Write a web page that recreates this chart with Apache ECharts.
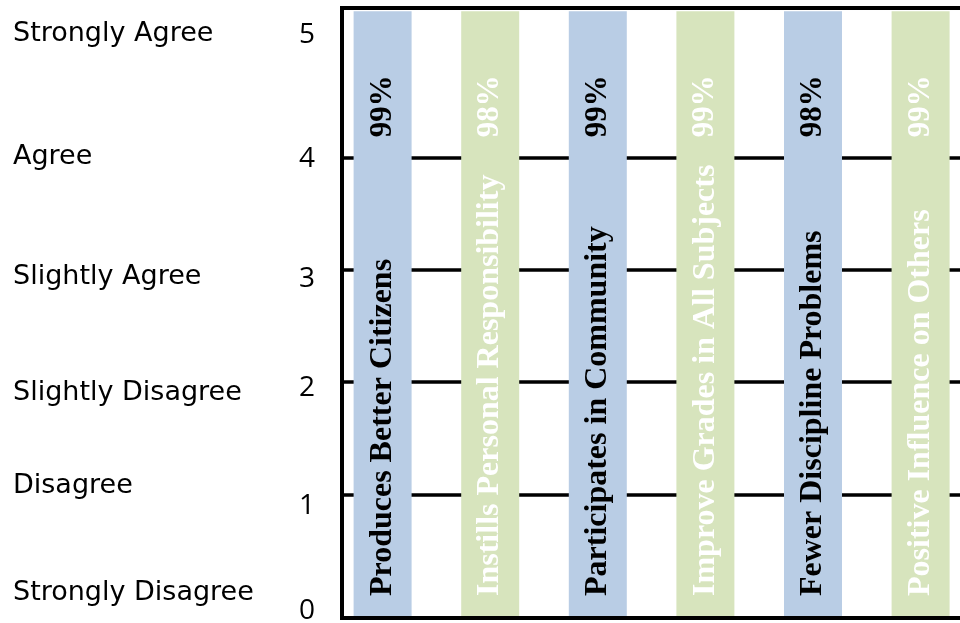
<!DOCTYPE html>
<html>
<head>
<meta charset="utf-8">
<script src="https://cdn.jsdelivr.net/npm/echarts@6/dist/echarts.min.js"></script>
<style>
html,body{margin:0;padding:0;background:#fff;}
#chart{width:960px;height:623px;}
</style>
</head>
<body>
<div id="chart"></div>
<script>
// ---- data ----
const categories = [
  'Produces Better Citizens',
  'Instills Personal Responsibility',
  'Participates in Community',
  'Improve Grades in All Subjects',
  'Fewer Discipline Problems',
  'Positive Influence on Others'
];
const barValues = [5.3, 5.3, 5.3, 5.3, 5.3, 5.3];
const percentAgree = [99, 98, 99, 99, 98, 99];
const scaleTicks = [0, 1, 2, 3, 4, 5];
const scaleLabels = ['Strongly Disagree', 'Disagree', 'Slightly Disagree', 'Slightly Agree', 'Agree', 'Strongly Agree'];
const gridLevels = [1, 2, 3, 4];

// ---- styles ----
const Y_MIN = -0.1, Y_MAX = 5.33;
const BLUE = '#B9CDE5', GREEN = '#D7E4BD';
const BAR_W = 58;
const nameFont = 'bold 32px "Liberation Serif", "Times New Roman", serif';
const pctFont = 'bold 31px "Liberation Serif", "Times New Roman", serif';

function nudge(shift, family, size) { // vertical shift in px (positive = down)
  return { padding: shift > 0 ? [2 * shift, 0, 0, 0] : [0, 0, -2 * shift, 0],
           fontFamily: family, fontSize: size, color: '#000' };
}
const num = s => nudge(s, 'Open Sans', 28);
const word = s => nudge(s, 'DejaVu Sans', 27);

const chart = echarts.init(document.getElementById('chart'), null, { renderer: 'canvas' });

const option = {
  animation: false,
  backgroundColor: '#fff',
  grid: [
    { left: 342, right: -60, top: 8, bottom: 5, show: true, borderColor: '#000', borderWidth: 4,
      backgroundColor: 'transparent', z: 10, outerBoundsMode: 'none', containLabel: false },
    { left: 328.8, right: -14.4, top: 8, bottom: 5, show: false, outerBoundsMode: 'none', containLabel: false }
  ],
  xAxis: [
    { gridIndex: 0, type: 'value', min: 0, max: 1, show: false },
    { gridIndex: 1, type: 'category', data: categories, show: false, boundaryGap: true }
  ],
  yAxis: [
    { // numbers
      gridIndex: 0, type: 'value', min: Y_MIN, max: Y_MAX, position: 'left',
      axisLine: { show: false }, axisTick: { show: false }, splitLine: { show: false },
      axisLabel: {
        customValues: scaleTicks, margin: 27,
        formatter: v => '{n' + v + '|' + v + '}',
        rich: { n0: num(4.7), n1: num(12), n2: num(6.4), n3: num(9.2), n4: num(1.6), n5: num(-10) }
      }
    },
    { // words
      gridIndex: 0, type: 'value', min: Y_MIN, max: Y_MAX, position: 'left',
      axisLine: { show: false }, axisTick: { show: false }, splitLine: { show: false },
      axisLabel: {
        customValues: scaleTicks, margin: 329, align: 'left',
        formatter: v => '{w' + v + '|' + scaleLabels[scaleTicks.indexOf(v)] + '}',
        rich: { w0: word(-13.5), w1: word(-8.7), w2: word(11.2), w3: word(6.9), w4: word(-0.7), w5: word(-10.9) }
      }
    },
    { gridIndex: 1, type: 'value', min: Y_MIN, max: Y_MAX, show: false, splitLine: { show: false } }
  ],
  series: [
    {
      type: 'line', xAxisIndex: 0, yAxisIndex: 0, data: [], z: 1, silent: true,
      markLine: {
        silent: true, symbol: 'none', z: 1,
        label: { show: false },
        lineStyle: { color: '#000', width: 3.5, type: 'solid' },
        data: gridLevels.map(v => ({ yAxis: v }))
      }
    },
    {
      type: 'custom', xAxisIndex: 1, yAxisIndex: 2, z: 3,
      encode: { x: 0, y: 1 },
      data: barValues.map((v, i) => [i, v]),
      renderItem: function (params, api) {
        const i = api.value(0);
        const top = api.coord([i, api.value(1)]);
        const base = api.coord([i, Y_MIN]);
        const even = i % 2 === 0;
        const txt = even ? '#000' : '#fff';
        return {
          type: 'group',
          children: [
            { type: 'rect', shape: { x: top[0] - BAR_W / 2, y: top[1], width: BAR_W, height: base[1] - top[1] },
              style: { fill: even ? BLUE : GREEN } },
            { type: 'text', x: top[0], y: base[1] - 22, rotation: Math.PI / 2,
              style: { text: categories[i], fill: txt, font: nameFont, align: 'left', verticalAlign: 'middle' } },
            { type: 'text', x: top[0], y: top[1] + 64, rotation: Math.PI / 2,
              style: { text: percentAgree[i] + '%', fill: txt, font: pctFont, align: 'right', verticalAlign: 'middle' } }
          ]
        };
      }
    }
  ]
};
chart.setOption(option);
</script>
</body>
</html>
